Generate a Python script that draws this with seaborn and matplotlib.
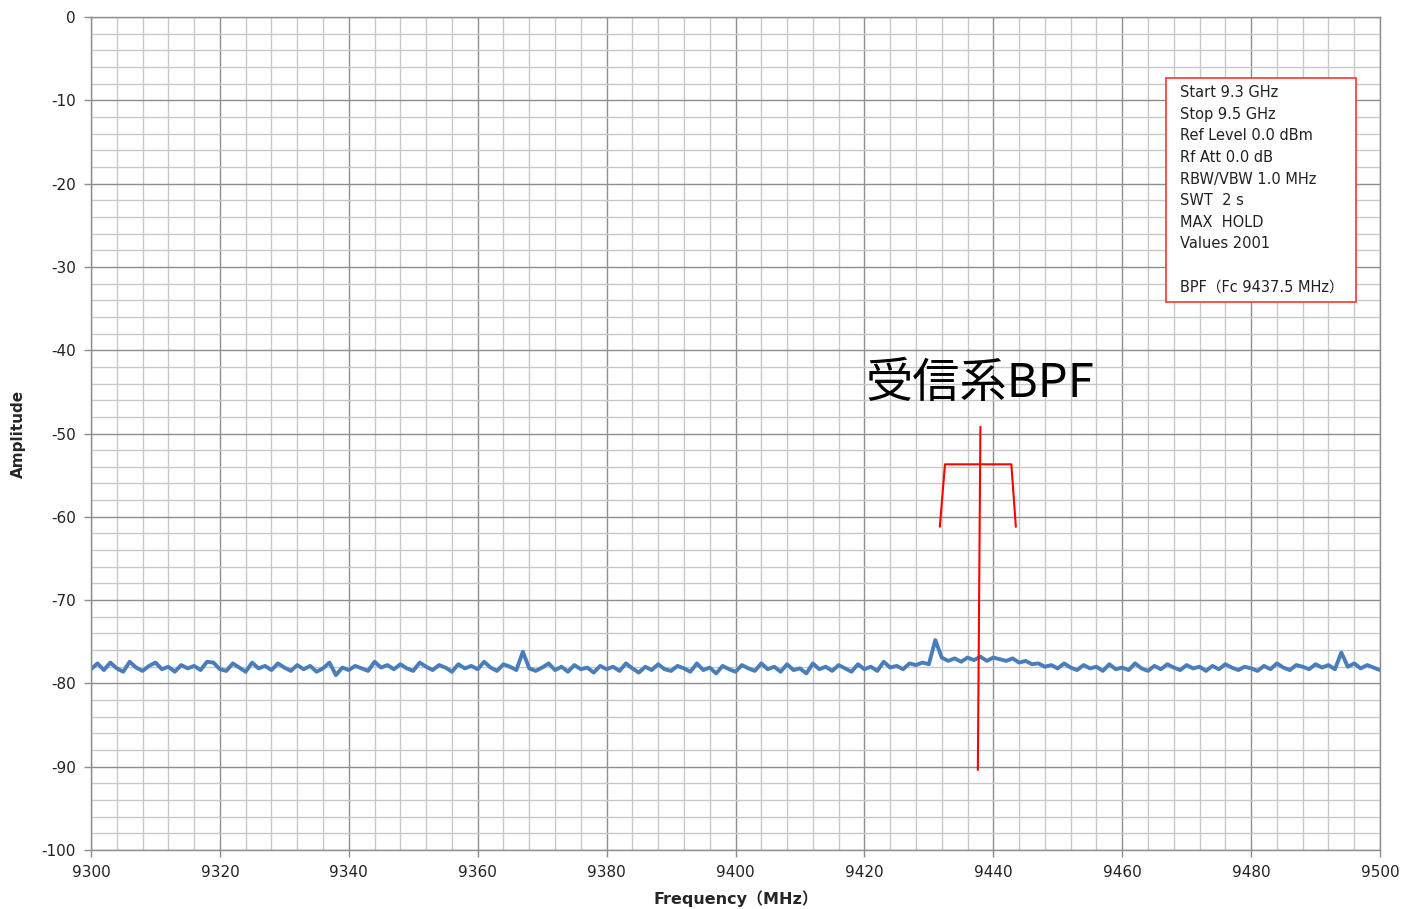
import numpy as np
import pandas as pd
import seaborn as sns
import matplotlib.pyplot as plt
from matplotlib.patches import Rectangle
from matplotlib.ticker import MultipleLocator

# spectrum trace at 1 MHz steps (9300..9500 MHz)
freq_start = 9300
freq_step = 1
amplitude = [
    -78.3, -77.6, -78.4, -77.5, -78.2, -78.6, -77.4, -78.1, -78.5, -77.9,
    -77.5, -78.3, -78.0, -78.6, -77.8, -78.2, -77.9, -78.4, -77.4, -77.5,
    -78.3, -78.5, -77.6, -78.1, -78.6, -77.5, -78.2, -77.9, -78.4, -77.6,
    -78.1, -78.5, -77.8, -78.3, -77.9, -78.6, -78.2, -77.5, -79.0, -78.1,
    -78.4, -77.9, -78.2, -78.5, -77.4, -78.1, -77.8, -78.3, -77.7, -78.2,
    -78.5, -77.5, -78.0, -78.4, -77.8, -78.1, -78.6, -77.7, -78.2, -77.9,
    -78.3, -77.4, -78.1, -78.5, -77.7, -78.0, -78.4, -76.2, -78.2, -78.5,
    -78.1, -77.6, -78.4, -78.0, -78.6, -77.8, -78.3, -78.1, -78.7, -77.9,
    -78.3, -78.0, -78.5, -77.6, -78.2, -78.7, -78.0, -78.4, -77.7, -78.3,
    -78.5, -77.9, -78.2, -78.6, -77.6, -78.4, -78.1, -78.8, -77.9, -78.3,
    -78.6, -77.8, -78.2, -78.5, -77.6, -78.3, -78.0, -78.6, -77.7, -78.4,
    -78.2, -78.8, -77.6, -78.3, -78.0, -78.5, -77.8, -78.2, -78.6, -77.7,
    -78.3, -78.0, -78.5, -77.4, -78.1, -77.9, -78.3, -77.6, -77.8, -77.5,
    -77.7, -74.8, -76.9, -77.3, -77.0, -77.4, -76.9, -77.2, -76.8, -77.3,
    -76.9, -77.1, -77.3, -77.0, -77.5, -77.3, -77.7, -77.6, -78.0, -77.8,
    -78.2, -77.6, -78.1, -78.4, -77.8, -78.2, -78.0, -78.5, -77.7, -78.3,
    -78.1, -78.4, -77.6, -78.2, -78.5, -77.9, -78.3, -77.7, -78.1, -78.4,
    -77.8, -78.2, -78.0, -78.5, -77.9, -78.3, -77.7, -78.1, -78.4, -78.0,
    -78.2, -78.5, -77.9, -78.3, -77.6, -78.1, -78.4, -77.8, -78.0, -78.3,
    -77.7, -78.1, -77.8, -78.3, -76.3, -78.0, -77.6, -78.2, -77.8, -78.1,
    -78.4,
]

# red BPF sketch (MHz, dB)
bpf_x = [9431.7, 9432.5, 9442.8, 9443.5]
bpf_y = [-61.2, -53.7, -53.7, -61.2]
fc_x = [9438.0, 9437.6]
fc_y = [-49.2, -90.4]

info_lines = ["Start 9.3 GHz", "Stop 9.5 GHz", "Ref Level 0.0 dBm", "Rf Att 0.0 dB",
              "RBW/VBW 1.0 MHz", "SWT  2 s", "MAX  HOLD", "Values 2001", "",
              "BPF（Fc 9437.5 MHz）"]

df = pd.DataFrame({"freq": freq_start + freq_step * np.arange(len(amplitude)),
                   "amp": amplitude})

sns.set_style("white")
plt.rcParams['font.family'] = ['DejaVu Sans', 'Noto Sans CJK JP']
plt.rcParams['axes.unicode_minus'] = False

fig = plt.figure(figsize=(14.01, 9.09), dpi=100)
ax = fig.add_axes([91 / 1401, 1 - 850 / 909, 1289 / 1401, 833 / 909])

ax.set_xlim(9300, 9500)
ax.set_ylim(-100, 0)
ax.xaxis.set_major_locator(MultipleLocator(20))
ax.xaxis.set_minor_locator(MultipleLocator(4))
ax.yaxis.set_major_locator(MultipleLocator(10))
ax.yaxis.set_minor_locator(MultipleLocator(2))
ax.grid(which='minor', color='#c8c8c8', lw=1.0)
ax.grid(which='major', color='#8e8e8e', lw=1.0)
ax.set_axisbelow(True)
for s in ax.spines.values():
    s.set_color('#8e8e8e')
    s.set_linewidth(1.0)
ax.tick_params(which='major', direction='out', length=5, width=1, color='#8e8e8e',
               labelsize=11, labelcolor='#222222', bottom=True, left=True, pad=6)
ax.tick_params(which='minor', length=0)

sns.lineplot(data=df, x="freq", y="amp", ax=ax, color='#4a7ebb', lw=2.8)

ax.plot(bpf_x, bpf_y, color='red', lw=1.5)
ax.plot(fc_x, fc_y, color='red', lw=1.5)
ax.text(9438, -44.0, "受信系BPF", fontsize=34, ha='center', va='center', color='black',
        family=['Noto Sans CJK JP', 'DejaVu Sans'])

# measurement settings box
ax.add_patch(Rectangle((0.834, 0.658), 0.147, 0.269, transform=ax.transAxes,
                       facecolor='white', edgecolor='#ff4040', lw=1.3, zorder=5))
for i, line in enumerate(info_lines):
    ax.text(0.845, 0.909 - i * 0.0259, line, transform=ax.transAxes, fontsize=10.5,
            ha='left', va='center', color='#222222', zorder=6)

ax.set_xlabel("Frequency（MHz）", fontsize=11.5, fontweight='bold', va='center')
ax.set_ylabel("Amplitude", fontsize=11, fontweight='bold', va='center')
ax.xaxis.set_label_coords(0.5, -0.058)
ax.yaxis.set_label_coords(-0.0566, 0.5)

fig.savefig("out.png", dpi=100)
